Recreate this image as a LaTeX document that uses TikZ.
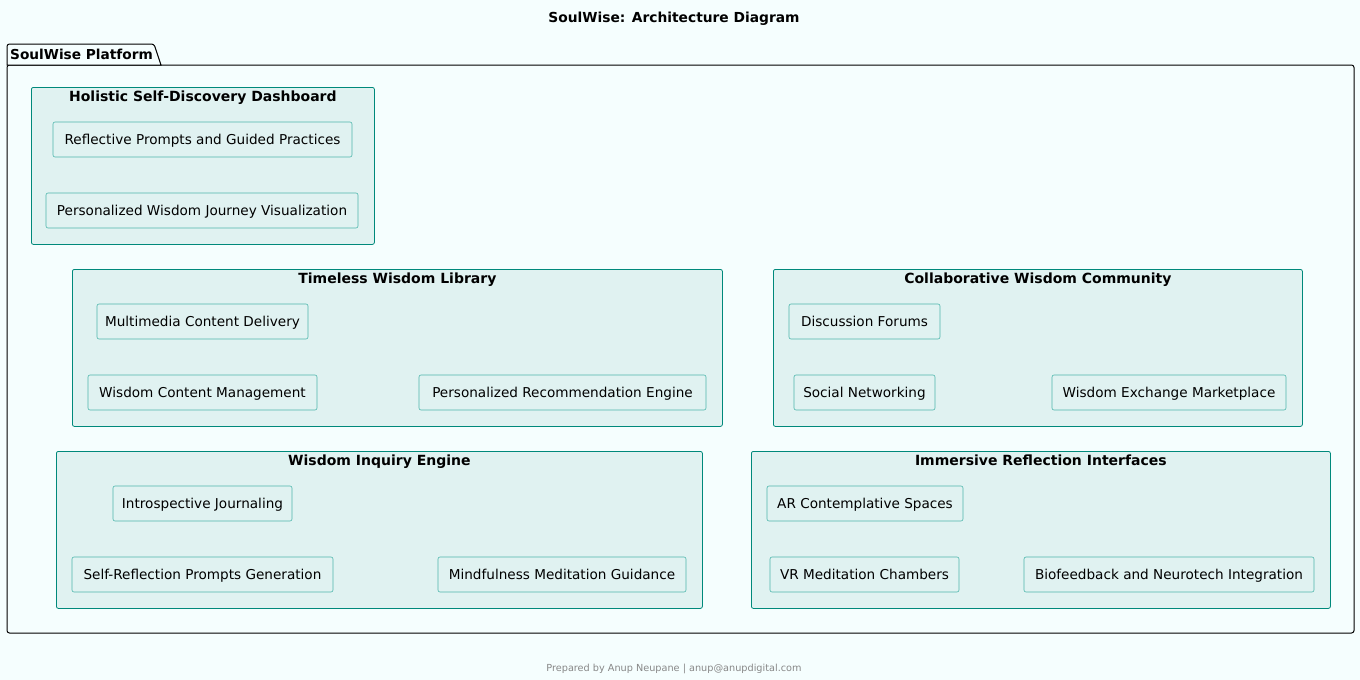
\documentclass[tikz,border=0pt]{standalone}
\usepackage{fontspec}
\setmainfont{DejaVu Sans}
\usetikzlibrary{positioning}
\definecolor{bgcol}{HTML}{F5FEFE}
\definecolor{partfill}{HTML}{E0F2F1}
\definecolor{partline}{HTML}{00897B}
\definecolor{itemline}{HTML}{4DB6AC}
\definecolor{footgray}{HTML}{888888}

\begin{document}
\begin{tikzpicture}[x=1pt, y=-1pt,
    part/.style={draw=partline, fill=partfill, rounded corners=2pt, line width=0.8pt,
                 minimum height=157pt, anchor=north west, inner sep=0pt},
    parttitle/.style={font=\bfseries\fontsize{14}{16}\selectfont, inner sep=0pt},
    item/.style={draw=itemline, fill=partfill, rounded corners=2pt, line width=0.6pt,
                 minimum height=35pt, inner sep=0pt, text height=10.5pt, text depth=0pt,
                 font=\fontsize{13.6}{16}\selectfont}]
    \useasboundingbox[fill=bgcol] (0,0) rectangle (1360,680);

    \node[font=\bfseries\fontsize{13.8}{16}\selectfont] (title) at (674,19) {SoulWise: Architecture Diagram};

    % package frame
    \draw[line width=1pt, rounded corners=2.5pt] (7,65) rectangle (1354,633);
    \draw[line width=1pt, fill=bgcol] (7,65) -- (7,47) [rounded corners=2.5pt] -- (7,44) -- (154,44) [sharp corners] -- (161,65) -- cycle;
    \node[font=\bfseries\fontsize{13.7}{16}\selectfont, anchor=west, inner sep=0pt] (platform) at (10,54) {SoulWise Platform};

    % components
    \node[part, minimum width=343pt] (dashboard) at (31,87) {};
    \node[parttitle, below=4pt of dashboard.north] {Holistic Self-Discovery Dashboard};
    \node[part, minimum width=650pt] (library) at (72,269) {};
    \node[parttitle, below=4pt of library.north] {Timeless Wisdom Library};
    \node[part, minimum width=529pt] (community) at (773,269) {};
    \node[parttitle, below=4pt of community.north] {Collaborative Wisdom Community};
    \node[part, minimum width=646pt] (inquiry) at (56,451) {};
    \node[parttitle, below=4pt of inquiry.north] {Wisdom Inquiry Engine};
    \node[part, minimum width=579pt] (immersive) at (751,451) {};
    \node[parttitle, below=4pt of immersive.north] {Immersive Reflection Interfaces};

    % dashboard
    \node[item, minimum width=299pt] (prompts) at (202.5,139.5) {Reflective Prompts and Guided Practices};
    \node[item, minimum width=312pt] (journey) at (202,210.5) {Personalized Wisdom Journey Visualization};
    % library
    \node[item, minimum width=211pt] (multimedia) at (202.5,321.5) {Multimedia Content Delivery};
    \node[item, minimum width=229pt] (contentmgmt) at (202.5,392.5) {Wisdom Content Management};
    \node[item, minimum width=287pt] (recommend) at (562.5,392.5) {Personalized Recommendation Engine};
    % community
    \node[item, minimum width=151pt] (forums) at (864.5,321.5) {Discussion Forums};
    \node[item, minimum width=141pt] (social) at (864.5,392.5) {Social Networking};
    \node[item, minimum width=234pt] (exchange) at (1169,392.5) {Wisdom Exchange Marketplace};
    % inquiry
    \node[item, minimum width=179pt] (journaling) at (202.5,503.5) {Introspective Journaling};
    \node[item, minimum width=261pt] (selfprompts) at (202.5,574.5) {Self-Reflection Prompts Generation};
    \node[item, minimum width=248pt] (meditation) at (562,574.5) {Mindfulness Meditation Guidance};
    % immersive
    \node[item, minimum width=196pt] (arspaces) at (865,503.5) {AR Contemplative Spaces};
    \node[item, minimum width=189pt] (vrchambers) at (864.5,574.5) {VR Meditation Chambers};
    \node[item, minimum width=290pt] (biofeedback) at (1169,574.5) {Biofeedback and Neurotech Integration};

    \node[font=\fontsize{9.7}{12}\selectfont, text=footgray] (footer) at (674,668.5) {Prepared by Anup Neupane | anup@anupdigital.com};
\end{tikzpicture}
\end{document}
